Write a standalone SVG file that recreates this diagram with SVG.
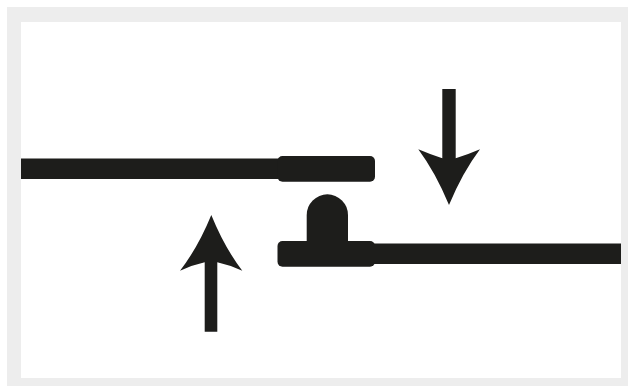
<svg xmlns="http://www.w3.org/2000/svg" width="628" height="386" viewBox="0 0 628 386">
<style>.k{fill:#1d1d1b}</style>
<rect width="628" height="386" fill="#fff"/>
<path id="frame" fill="#ededed" fill-rule="evenodd" d="M7 7H628V386H7ZM21 22V378H621V22Z"/>
<g id="upper-part">
<rect class="k" x="21" y="158.5" width="260" height="20.5"/>
<rect class="k" x="277.5" y="156" width="97.500" height="25.700" rx="5"/>
</g>
<g id="lower-part">
<rect class="k" x="370" y="243.500" width="251" height="20.500"/>
<rect class="k" x="277.500" y="241" width="97.500" height="25.700" rx="5"/>
<path class="k" d="M306.700 243V215A20.650 20.650 0 0 1 348 215V243Z"/>
</g>
<g id="arrow-up">
<path class="k" d="M211.300 215Q224.500 247.500 242.300 270.700Q229.500 265 217.300 262.300V331.700H204.700V262.300Q192.500 265 180 270.700Q198 247.500 211.300 215Z"/>
</g>
<g id="arrow-down">
<path class="k" d="M442.300 89H455.700V158.300Q468 154.500 480 149.300Q462.500 172.500 449 205Q435.500 172.500 418.300 149.300Q430.500 154.500 442.300 158.300Z"/>
</g>
</svg>
